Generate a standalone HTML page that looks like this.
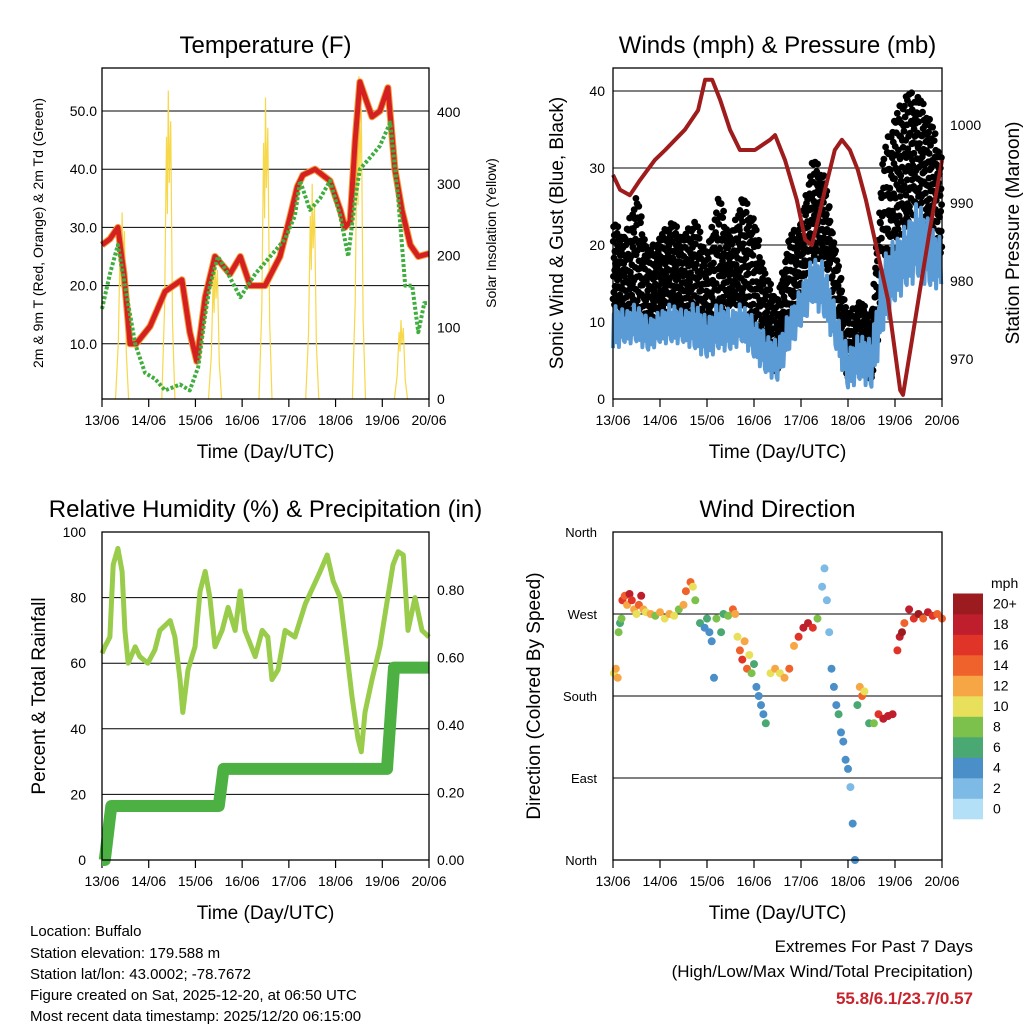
<!DOCTYPE html>
<html><head><meta charset="utf-8"><style>
html,body{margin:0;padding:0;background:#fff}
svg{display:block;font-family:"Liberation Sans",sans-serif}
</style></head><body>
<svg id="s" width="1024" height="1024" viewBox="0 0 1024 1024" xmlns="http://www.w3.org/2000/svg">
<rect width="1024" height="1024" fill="#fff"/>
<g id="p1"></g>
<g id="p2"></g>
<g id="p3"></g>
<g id="p4"></g>
<g font-size="15" fill="#000">
<text x="30" y="936">Location: Buffalo</text>
<text x="30" y="958">Station elevation: 179.588 m</text>
<text x="30" y="979">Station lat/lon: 43.0002; -78.7672</text>
<text x="30" y="1000">Figure created on Sat, 2025-12-20, at 06:50 UTC</text>
<text x="30" y="1021">Most recent data timestamp: 2025/12/20 06:15:00</text>
</g>
<g font-size="17" text-anchor="end">
<text x="973" y="952">Extremes For Past 7 Days</text>
<text x="973" y="977">(High/Low/Max Wind/Total Precipitation)</text>
<text x="973" y="1004" fill="#c8232c" font-weight="bold">55.8/6.1/23.7/0.57</text>
</g>
</svg>
<script>
// ---------- data ----------
const dayLabels=["13/06","14/06","15/06","16/06","17/06","18/06","19/06","20/06"];
const tempT=[0,.17,.34,.47,.60,.73,1.03,1.35,1.71,1.88,2.03,2.21,2.42,2.74,2.96,3.17,3.49,3.81,4.03,4.18,4.30,4.56,4.88,5.10,5.20,5.31,5.42,5.52,5.65,5.78,5.95,6.12,6.27,6.42,6.60,6.77,7.0];
const tempV=[27,28,30,22,10,10,13,19,21,12,7,18,25,22,25,20,20,25,32,37,39,40,38,33,30,31,45,55,52,49,50,54,40,33,27,25,25.5];
const dewT=[0,.17,.34,.49,.71,.92,1.13,1.35,1.67,1.88,2.06,2.21,2.31,2.48,2.70,2.96,3.28,3.60,3.92,4.13,4.24,4.45,4.67,4.88,5.10,5.27,5.42,5.52,5.74,5.95,6.17,6.34,6.49,6.64,6.77,6.90,7.0];
const dewV=[16,22,27,20,10,5,4,2,3,2,6,15,20,25,22,18,22,25,28,32,38,33,35,38,32,25,35,40,42,44,48,35,20,20,12,17,17];
const solarT=[0.43,1.42,2.42,3.5,4.5,5.5,6.4];
const solarV=[260,430,200,420,300,450,110];
const windT=[0,.25,.5,.75,1,1.25,1.5,1.75,2,2.25,2.5,2.75,3,3.25,3.5,3.75,4,4.25,4.5,4.75,5,5.25,5.5,5.75,6,6.25,6.5,6.75,7];
const gustLo=[12,10,10,8,10,12,10,10,8,10,12,12,8,5,3,10,14,18,18,10,2,5,2,12,20,22,25,22,18];
const gustHi=[22,20,25,18,20,22,20,22,18,25,20,25,22,15,12,20,22,30,28,18,10,12,10,30,35,38,38,35,30];
const windLo=[6,7,7,6,7,7,7,6,5,6,6,7,5,3,2,6,9,12,10,6,1,2,1,8,12,14,15,14,14];
const windHi=[12,11,12,10,11,12,11,12,10,12,11,12,10,8,7,11,14,18,17,11,6,8,7,18,20,22,25,22,20];
const presT=[0,.15,.36,.57,.89,1.11,1.53,1.81,1.96,2.11,2.28,2.49,2.70,3.02,3.34,3.45,3.66,3.91,4.09,4.23,4.36,4.51,4.72,4.87,5.04,5.21,5.38,5.57,5.85,6.11,6.17,6.36,6.53,6.74,7.0];
const presV=[993.6,991.7,991.0,992.9,995.5,996.8,999.4,1001.9,1005.8,1005.8,1003.2,999.4,996.8,996.8,998.1,998.7,995.5,990.4,985.3,984.6,987.8,991.7,996.8,998.1,996.8,994.2,990.4,985.3,977.6,966.0,965.4,972.4,978.8,986.5,995.5];
const rhT=[0,.06,.17,.24,.34,.43,.49,.56,.71,.81,.98,1.13,1.24,1.46,1.56,1.67,1.73,1.84,1.99,2.10,2.21,2.31,2.42,2.57,2.70,2.85,2.96,3.06,3.28,3.43,3.55,3.64,3.77,3.92,4.13,4.35,4.67,4.82,4.95,5.10,5.25,5.35,5.48,5.55,5.63,5.78,5.95,6.06,6.23,6.34,6.45,6.55,6.70,6.85,7.0];
const rhV=[63,65,68,90,95,88,70,60,65,62,60,64,70,73,68,55,45,58,65,82,88,80,65,70,77,70,82,70,62,70,68,55,58,70,68,78,88,93,85,80,62,50,37,33,45,55,65,75,90,94,93,70,80,70,68];
const rainT=[0,.06,.2,2.5,2.6,6.1,6.25,7.0];
const rainV=[0,0,.16,.16,.27,.27,.57,.57];
const dirT=[0.02,0.06,0.1,0.12,0.15,0.18,0.2,0.25,0.3,0.35,0.4,0.45,0.5,0.55,0.6,0.65,0.7,0.8,0.9,1.0,1.1,1.2,1.3,1.4,1.5,1.55,1.65,1.7,1.75,1.85,1.95,2.0,2.05,2.1,2.15,2.2,2.3,2.35,2.45,2.55,2.6,2.65,2.7,2.75,2.8,2.85,2.9,2.95,3.0,3.05,3.1,3.15,3.2,3.25,3.35,3.45,3.55,3.65,3.75,3.85,3.95,4.05,4.15,4.25,4.35,4.45,4.5,4.55,4.6,4.65,4.7,4.75,4.8,4.85,4.9,4.95,5.0,5.05,5.1,5.15,5.2,5.25,5.3,5.35,5.45,5.55,5.65,5.75,5.85,5.95,6.05,6.1,6.15,6.2,6.3,6.4,6.5,6.6,6.7,6.8,6.9,7.0];
const dirDeg=[205,210,200,250,260,265,285,290,280,292,285,275,270,280,290,275,272,270,268,272,265,270,268,275,280,295,305,300,285,260,255,265,250,240,200,265,250,270,268,275,270,245,230,220,240,210,225,205,215,190,180,170,160,150,205,210,205,200,210,235,245,255,260,255,265,300,320,285,250,210,190,170,160,140,130,110,100,80,40,0,170,190,180,185,150,150,160,155,158,160,230,245,250,260,275,265,270,265,272,268,270,265];
const dirSpd=[10,12,11,7,6,8,16,14,12,18,16,12,10,14,18,12,9,11,8,12,10,11,9,8,12,14,14,10,8,6,4,5,4,3,3,8,6,5,8,14,12,10,14,16,12,14,10,8,6,4,4,3,4,5,10,12,10,12,14,12,16,18,18,16,8,2,2,1,2,4,3,4,6,4,4,3,4,2,4,4,6,12,14,10,6,8,16,18,18,18,16,18,20,14,18,16,20,14,18,16,14,14];
const cbLabels=["0","2","4","6","8","10","12","14","16","18","20+"];
const cbColors=["#b4e0f7","#7dbae5","#4a8fc8","#4aa873","#7cc14c","#e8e05a","#f7a646","#f0622b","#df3427","#bf1e2d","#9b1b1e"];

// ---------- helpers ----------
const NS="http://www.w3.org/2000/svg";
const SPREAD=[0.1,0.85,0.4,1.05,0.2,0.65,0.95,0.05,0.5,0.75,0.3,1.1,0.6,0.15];
function mk(parent,tag,attrs,txt){const e=document.createElementNS(NS,tag);for(const k in attrs)e.setAttribute(k,attrs[k]);if(txt!==undefined)e.textContent=txt;parent.appendChild(e);return e;}
function pts(T,V,fx,fy){return T.map((t,i)=>fx(t).toFixed(1)+","+fy(V[i]).toFixed(1)).join(" ");}
function colorFor(s){let i=Math.round(s/2);if(i>10)i=10;if(i<0)i=0;return cbColors[i];}
function bandSamples(T,LO,HI,reps){
  const out=[];const n=SPREAD.length*reps;
  for(let i=0;i<T.length-1;i++){
    for(let k=0;k<n;k++){
      const f=k/n;const t=T[i]+f*(T[i+1]-T[i]);
      const lo=LO[i]+f*(LO[i+1]-LO[i]);const hi=HI[i]+f*(HI[i+1]-HI[i]);
      let s=SPREAD[k%SPREAD.length]+0.37*Math.floor(k/SPREAD.length);
      while(s>1.12)s-=1.12;
      out.push([t,lo+s*(hi-lo)]);
    }
  }
  return out;
}

function frame(g,x0,x1,y0,y1,title,xtitle){
  const fx=d=>x0+d*(x1-x0)/7;
  let t=mk(g,"text",{x:(x0+x1)/2,y:y0-15,"font-size":24,"text-anchor":"middle"},title);
  
  
  dayLabels.forEach((lb,i)=>{
    let tk=mk(g,"line",{x1:fx(i),x2:fx(i),y1:y1,y2:y1+8,stroke:"#000","stroke-width":1.2});
    
    
    let tl=mk(g,"text",{x:fx(i),y:y1+26,"font-size":14,"text-anchor":"middle"},lb);
    
    
  });
  let xt=mk(g,"text",{x:(x0+x1)/2,y:y1+59,"font-size":19,"text-anchor":"middle"},xtitle);
  
  
  return fx;
}
function border(g,x0,x1,y0,y1){
  let b=mk(g,"rect",{x:x0,y:y0,width:x1-x0,height:y1-y0,fill:"none",stroke:"#000","stroke-width":1.3});
  
  
}
function hgrid(g,x0,x1,y){
  let l=mk(g,"line",{x1:x0,x2:x1,y1:y,y2:y,stroke:"#000","stroke-width":1});
  
  
}
function ylab(g,x,y,txt,anchor,size){
  let t=mk(g,"text",{x:x,y:y+5,"font-size":size||14,"text-anchor":anchor},txt);
  
  
}
function vtitle(g,x,y,txt,size,name){
  let t=mk(g,"text",{x:0,y:0,"font-size":size,"text-anchor":"middle",transform:`translate(${x},${y}) rotate(-90)`},txt);
  
  
}

// ---------- panel 1: temperature ----------
(function(){
  const g=document.getElementById("p1");
  const x0=102,x1=429,y0=68,y1=399;
  const fx=frame(g,x0,x1,y0,y1,"Temperature (F)","Time (Day/UTC)");
  const fy=v=>402-v*5.82;
  const fs=v=>399-v*0.7175;
  [10,20,30,40,50].forEach(v=>{hgrid(g,x0,x1,fy(v));ylab(g,97,fy(v),v.toFixed(1),"end");});
  [0,100,200,300,400].forEach(v=>ylab(g,437,fs(v),String(v),"start"));
  solarT.forEach((t,i)=>{
    const v=solarV[i];
    const p=[[t-0.14,0],[t-0.08,v*0.3],[t-0.04,v*0.85],[t-0.02,v*0.6],[t,v],[t+0.02,v*0.7],[t+0.05,v*0.9],[t+0.09,v*0.25],[t+0.14,0]];
    let s=mk(g,"polyline",{points:p.map(q=>fx(q[0]).toFixed(1)+","+fs(q[1]).toFixed(1)).join(" "),fill:"none",stroke:"#f7d84a","stroke-width":1.2});
    
    
  });
  let o=mk(g,"polyline",{points:pts(tempT,tempV,fx,fy),fill:"none",stroke:"#f39a3a","stroke-width":7,"stroke-linejoin":"round"});
  
  
  let r=mk(g,"polyline",{points:pts(tempT,tempV,fx,fy),fill:"none",stroke:"#d42020","stroke-width":5,"stroke-linejoin":"round"});
  
  
  let d=mk(g,"polyline",{points:pts(dewT,dewV,fx,fy),fill:"none",stroke:"#3fae3f","stroke-width":4,"stroke-dasharray":"3 2","stroke-linejoin":"round"});
  
  
  border(g,x0,x1,y0,y1);
  vtitle(g,43,233,"2m & 9m T (Red, Orange) & 2m Td (Green)",14,"y-axis-title");
  vtitle(g,496,233,"Solar Insolation (Yellow)",14,"y2-axis-title");
})();

// ---------- panel 2: winds ----------
(function(){
  const g=document.getElementById("p2");
  const x0=613,x1=942,y0=68,y1=399;
  const fx=frame(g,x0,x1,y0,y1,"Winds (mph) & Pressure (mb)","Time (Day/UTC)");
  const fy=v=>399-v*7.7;
  const fp=v=>359-(v-970)*7.8;
  [10,20,30,40].forEach(v=>hgrid(g,x0,x1,fy(v)));
  [0,10,20,30,40].forEach(v=>ylab(g,605,fy(v),String(v),"end"));
  [970,980,990,1000].forEach(v=>ylab(g,950,fp(v),String(v),"start"));
  const gs=mk(g,"g",{fill:"#000"});
  
  
  bandSamples(windT,gustLo,gustHi,4).forEach(p=>{
    let c=mk(gs,"circle",{cx:fx(p[0]).toFixed(1),cy:fy(p[1]).toFixed(1),r:3.4});
    
    
  });
  const ws=bandSamples(windT,windLo,windHi,1);
  let wz=mk(g,"polyline",{points:ws.map(p=>fx(p[0]).toFixed(1)+","+fy(p[1]).toFixed(1)).join(" "),fill:"none",stroke:"#5b9bd5","stroke-width":4,"stroke-linejoin":"round"});
  
  
  let p=mk(g,"polyline",{points:pts(presT,presV,fx,fp),fill:"none",stroke:"#9e1c1c","stroke-width":4,"stroke-linejoin":"round"});
  
  
  border(g,x0,x1,y0,y1);
  vtitle(g,563,233,"Sonic Wind & Gust (Blue, Black)",19,"y-axis-title");
  vtitle(g,1019,233,"Station Pressure (Maroon)",19,"y2-axis-title");
})();

// ---------- panel 3: humidity ----------
(function(){
  const g=document.getElementById("p3");
  const x0=102,x1=429,y0=532,y1=860;
  const fx=frame(g,x0,x1,y0,y1,"Relative Humidity (%) & Precipitation (in)","Time (Day/UTC)");
  const fy=v=>860-v*3.28;
  const fr=v=>860-v/0.2*67.5;
  [20,40,60,80].forEach(v=>hgrid(g,x0,x1,fy(v)));
  [0,20,40,60,80,100].forEach(v=>ylab(g,86,fy(v),String(v),"end"));
  [0,.2,.4,.6,.8].forEach(v=>ylab(g,437,fr(v),v.toFixed(2),"start"));
  let rh=mk(g,"polyline",{points:pts(rhT,rhV,fx,fy),fill:"none",stroke:"#99cc4a","stroke-width":5,"stroke-linejoin":"round"});
  
  
  let rn=mk(g,"polyline",{points:pts(rainT,rainV,fx,fr),fill:"none",stroke:"#4cb043","stroke-width":12,"stroke-linejoin":"round"});
  
  
  border(g,x0,x1,y0,y1);
  vtitle(g,45,696,"Percent & Total Rainfall",19,"y-axis-title");
})();

// ---------- panel 4: wind direction ----------
(function(){
  const g=document.getElementById("p4");
  const x0=613,x1=942,y0=532,y1=860;
  const fx=frame(g,x0,x1,y0,y1,"Wind Direction","Time (Day/UTC)");
  const fy=v=>860-v/360*328;
  const names=["North","East","South","West","North"];
  [0,90,180,270,360].forEach((v,i)=>{if(v>0&&v<360)hgrid(g,x0,x1,fy(v));ylab(g,597,fy(v),names[i],"end",13);});
  dirT.forEach((t,i)=>{
    let c=mk(g,"circle",{cx:fx(t).toFixed(1),cy:fy(dirDeg[i]).toFixed(1),r:4,fill:colorFor(dirSpd[i])});
    
    
  });
  border(g,x0,x1,y0,y1);
  vtitle(g,540,696,"Direction (Colored By Speed)",19,"y-axis-title");
  const cb=mk(g,"g",{});
  
  
  let u=mk(cb,"text",{x:991,y:588,"font-size":14},"mph");
  
  
  cbLabels.forEach((lb,i)=>{
    const yb=819-20.5*(i+1);
    let r=mk(cb,"rect",{x:953,y:yb.toFixed(1),width:30,height:20.8,fill:cbColors[i]});
    
    
    let t=mk(cb,"text",{x:993,y:(yb+15).toFixed(1),"font-size":14},lb);
    
    
  });
})();
</script>
</body></html>
